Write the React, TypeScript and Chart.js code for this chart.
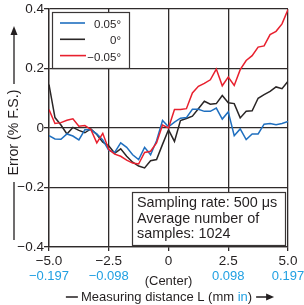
import React, { useEffect, useRef } from "react";
import { Chart, registerables } from "chart.js";

Chart.register(...registerables);

const xPositions = [
  -5, -4.75, -4.5, -4.25, -4, -3.75, -3.5, -3.25, -3, -2.75, -2.5, -2.25, -2, -1.75,
  -1.5, -1.25, -1, -0.75, -0.5, -0.25, 0, 0.25, 0.5, 0.75, 1, 1.25, 1.5, 1.75, 2,
  2.25, 2.5, 2.75, 3, 3.25, 3.5, 3.75, 4, 4.25, 4.5, 4.75, 5,
];

const errPos005 = [
  -0.026, -0.037, -0.038, -0.02, -0.027, -0.04, -0.006, -0.006, -0.02, -0.04, -0.075,
  -0.082, -0.05, -0.065, -0.09, -0.106, -0.065, -0.09, -0.043, 0.025, 0.004, 0.02,
  0.033, 0.035, 0.063, 0.063, 0.056, 0.056, 0.067, 0.03, 0.054, -0.026, -0.003,
  -0.039, -0.02, -0.02, 0.013, 0.015, 0.011, 0.015, 0.022,
];

const errZero = [
  0.146, 0.035, 0.01, -0.02, 0.002, -0.008, -0.016, -0.003, -0.022, -0.048, -0.06,
  -0.085, -0.07, -0.095, -0.115, -0.128, -0.134, -0.11, -0.106, -0.055, -0.006,
  -0.045, 0.025, 0.032, 0.04, 0.065, 0.09, 0.08, 0.082, 0.109, 0.085, 0.082, 0.034,
  0.056, 0.058, 0.1, 0.112, 0.123, 0.138, 0.132, 0.157,
];

const errNeg005 = [
  0.062, 0.015, 0.018, 0.026, 0.031, 0.006, 0.008, -0.005, -0.05, -0.018, -0.072,
  -0.088, -0.095, -0.108, -0.118, -0.121, -0.082, -0.078, -0.05, 0.01, 0.0, 0.062,
  0.062, 0.065, 0.118, 0.14, 0.15, 0.162, 0.198, 0.142, 0.171, 0.143, 0.196, 0.227,
  0.243, 0.272, 0.276, 0.314, 0.325, 0.35, 0.398,
];

const seriesLabels = ["0.05°", "0°", "−0.05°"];
const seriesColors = ["#1f6fbf", "#2a2626", "#e8202e"];

const xTickValues = [-5, -2.5, 0, 2.5, 5];
const xTickLabels = ["−5.0", "−2.5", "0", "2.5", "5.0"];
const xInchLabels = ["−0.197", "−0.098", "", "0.098", "0.197"];
const yTickValues = [-0.4, -0.2, 0, 0.2, 0.4];
const yTickLabels = ["−0.4", "−0.2", "0", "0.2", "0.4"];

const centerLabel = "(Center)";
const yTitle = "Error (% F.S.)";
const xTitleParts = ["Measuring distance L (mm ", "in", ")"];
const noteLines = ["Sampling rate: 500 μs", "Average number of", "samples: 1024"];

const FONT = "'Liberation Sans', Arial, Helvetica, sans-serif";
const GRID = "#2f2b2b";
const INCH_BLUE = "#21a0e2";

function lookup(values: number[], labels: string[], v: number) {
  const i = values.findIndex((t) => Math.abs(t - v) < 1e-6);
  return i >= 0 ? labels[i] : "";
}

const annotate = {
  id: "annotate",
  afterDatasetsDraw(chart: any) {
    const { ctx, chartArea: ca } = chart;
    ctx.save();
    // Legend box
    const lx = ca.left + 3;
    const ly = ca.top + 3;
    const lw = 77;
    const lh = 56;
    ctx.fillStyle = "#fff";
    ctx.fillRect(lx, ly, lw, lh);
    ctx.strokeStyle = "#3a3636";
    ctx.lineWidth = 1.2;
    ctx.strokeRect(lx + 0.5, ly + 0.5, lw, lh);
    ctx.font = `11.5px ${FONT}`;
    ctx.textAlign = "right";
    ctx.textBaseline = "alphabetic";
    seriesLabels.forEach((label, i) => {
      const y = ly + 11 + i * 16.3;
      ctx.strokeStyle = seriesColors[i];
      ctx.lineWidth = 1.6;
      ctx.beginPath();
      ctx.moveTo(lx + 8, y);
      ctx.lineTo(lx + (i === 2 ? 34 : 33), y);
      ctx.stroke();
      ctx.fillStyle = "#231f20";
      ctx.fillText(label, lx + 69, y + 5);
    });

    // Note box
    const bx = 132;
    const by = 192;
    const bw = ca.right - 3 - bx;
    const bh = ca.bottom - 2 - by;
    ctx.fillStyle = "#fff";
    ctx.fillRect(bx, by, bw, bh);
    ctx.strokeStyle = "#3a3636";
    ctx.lineWidth = 1.2;
    ctx.strokeRect(bx + 0.5, by + 0.5, bw, bh);
    ctx.fillStyle = "#231f20";
    ctx.font = `14.4px ${FONT}`;
    ctx.textAlign = "left";
    noteLines.forEach((line, i) => {
      ctx.fillText(line, bx + 5, by + 15 + i * 15.5);
    });
    ctx.restore();
  },
  afterDraw(chart: any) {
    const { ctx, chartArea: ca, scales } = chart;
    ctx.save();
    ctx.fillStyle = "#231f20";
    ctx.strokeStyle = "#231f20";

    // (Center)
    ctx.font = `13px ${FONT}`;
    ctx.textAlign = "center";
    ctx.textBaseline = "middle";
    ctx.fillText(centerLabel, scales.x.getPixelForValue(0), 281);

    // X title
    ctx.textAlign = "left";
    const w0 = ctx.measureText(xTitleParts[0]).width;
    const w1 = ctx.measureText(xTitleParts[1]).width;
    const w2 = ctx.measureText(xTitleParts[2]).width;
    const total = w0 + w1 + w2;
    const cx = (ca.left + ca.right) / 2 - 2;
    let tx = cx - total / 2;
    const ty = 297;
    ctx.fillText(xTitleParts[0], tx, ty);
    ctx.fillStyle = INCH_BLUE;
    ctx.fillText(xTitleParts[1], tx + w0, ty);
    ctx.fillStyle = "#231f20";
    ctx.fillText(xTitleParts[2], tx + w0 + w1, ty);
    ctx.lineWidth = 1.3;
    ctx.beginPath();
    ctx.moveTo(tx - 15, ty);
    ctx.lineTo(tx - 3, ty);
    const ex = tx + total + 4;
    ctx.moveTo(ex, ty);
    ctx.lineTo(ex + 12, ty);
    ctx.stroke();
    ctx.beginPath();
    ctx.moveTo(ex + 10, ty - 3.5);
    ctx.lineTo(ex + 18, ty);
    ctx.lineTo(ex + 10, ty + 3.5);
    ctx.closePath();
    ctx.fill();

    // Y title
    const yx = 14;
    const yc = 132.5;
    ctx.save();
    ctx.translate(yx, yc);
    ctx.rotate(-Math.PI / 2);
    ctx.font = `14.2px ${FONT}`;
    ctx.textAlign = "center";
    ctx.textBaseline = "middle";
    ctx.fillText(yTitle, 0, 0);
    ctx.restore();
    ctx.lineWidth = 1.3;
    ctx.beginPath();
    ctx.moveTo(yx, 84);
    ctx.lineTo(yx, 33);
    ctx.moveTo(yx, 182);
    ctx.lineTo(yx, 240);
    ctx.stroke();
    ctx.beginPath();
    ctx.moveTo(yx - 3.5, 35);
    ctx.lineTo(yx, 26);
    ctx.lineTo(yx + 3.5, 35);
    ctx.closePath();
    ctx.fill();
    ctx.restore();
  },
};

export default function App() {
  const ref = useRef<HTMLCanvasElement>(null);
  useEffect(() => {
    if (!ref.current) return;
    const mk = (arr: number[]) => xPositions.map((x, i) => ({ x, y: arr[i] }));
    const chart = new Chart(ref.current, {
      type: "line",
      data: {
        datasets: [
          { label: seriesLabels[2], data: mk(errNeg005), borderColor: seriesColors[2] },
          { label: seriesLabels[0], data: mk(errPos005), borderColor: seriesColors[0] },
          { label: seriesLabels[1], data: mk(errZero), borderColor: seriesColors[1] },
        ].map((d) => ({ ...d, borderWidth: 1.5, pointRadius: 0, tension: 0, fill: false, xAxisID: "x", yAxisID: "y" })),
      },
      options: {
        responsive: false,
        animation: false,
        events: [],
        layout: { padding: { left: 0, right: 16, top: 9, bottom: 0 } },
        plugins: { legend: { display: false }, tooltip: { enabled: false } },
        scales: {
          x: {
            type: "linear",
            position: "bottom",
            weight: 0,
            min: -5,
            max: 5,
            afterBuildTicks: (s: any) => {
              s.ticks = xTickValues.map((v) => ({ value: v }));
            },
            afterFit: (s: any) => {
              s.height = 23;
            },
            ticks: {
              autoSkip: false,
              maxRotation: 0,
              padding: 2,
              color: "#231f20",
              font: { family: FONT, size: 13.5 },
              callback: (v: any) => lookup(xTickValues, xTickLabels, Number(v)),
            },
            grid: { color: GRID, lineWidth: 1.3, tickLength: 4, drawTicks: true },
            border: { color: GRID, width: 1.3 },
          },
          x2: {
            type: "linear",
            position: "bottom",
            weight: 1,
            min: -5,
            max: 5,
            afterBuildTicks: (s: any) => {
              s.ticks = xTickValues.map((v) => ({ value: v }));
            },
            afterFit: (s: any) => {
              s.height = 35;
            },
            ticks: {
              autoSkip: false,
              maxRotation: 0,
              padding: -1,
              color: INCH_BLUE,
              font: { family: FONT, size: 13 },
              callback: (v: any) => lookup(xTickValues, xInchLabels, Number(v)),
            },
            grid: { display: false, drawTicks: false },
            border: { display: false },
          },
          y: {
            type: "linear",
            min: -0.4,
            max: 0.4,
            afterBuildTicks: (s: any) => {
              s.ticks = yTickValues.map((v) => ({ value: v }));
            },
            afterFit: (s: any) => {
              s.width = 49;
            },
            ticks: {
              padding: 0,
              color: "#231f20",
              font: { family: FONT, size: 13.5 },
              callback: (v: any) => lookup(yTickValues, yTickLabels, Number(v)),
            },
            grid: { color: GRID, lineWidth: 1.3, tickLength: 5, drawTicks: true },
            border: { color: GRID, width: 1.3 },
          },
        },
      },
      plugins: [annotate],
    } as any);
    return () => chart.destroy();
  }, []);
  return (
    <div style={{ position: "absolute", left: 0, top: 0, width: 304, height: 305, background: "#fff" }}>
      <canvas ref={ref} width={304} height={305} style={{ display: "block" }} />
    </div>
  );
}
